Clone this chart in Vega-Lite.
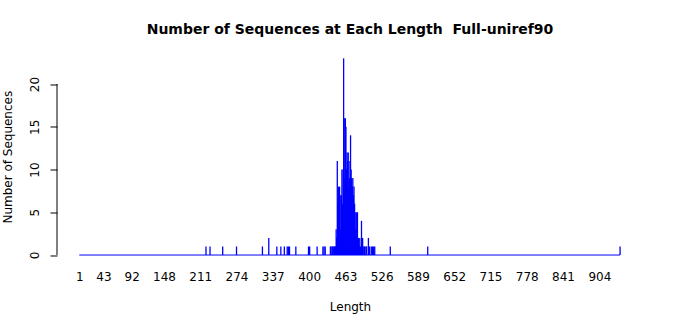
{
  "$schema": "https://vega.github.io/schema/vega-lite/v6.json",
  "autosize": "none",
  "width": 586,
  "height": 212.4,
  "padding": {"left": 57, "top": 50.5, "right": 57, "bottom": 52},
  "background": "white",
  "config": {
    "font": "DejaVu Sans",
    "view": {"stroke": null},
    "axis": {"grid": false, "labelFontSize": 12, "labelColor": "black", "titleColor": "black", "titleFontSize": 12,
      "titleFontWeight": "normal", "labelFlush": false, "labelOverlap": false, "labelFont": "DejaVu Sans", "titleFont": "DejaVu Sans"},
    "axisX": {"domain": false, "ticks": false, "tickSize": 0, "labelPadding": 9.1, "titlePadding": 19},
    "axisY": {"domain": false, "tickSize": 7, "tickColor": "black", "labelAngle": -90, "labelAlign": "center",
      "labelBaseline": "bottom", "labelPadding": 9, "titlePadding": 14}
  },
  "title": {"text": "Number of Sequences at Each Length\u00a0 Full-uniref90", "fontSize": 14, "fontWeight": "bold", "font": "DejaVu Sans", "offset": 13, "anchor": "middle", "color": "black"},
  "datasets": {
    "counts": [
      {"length": 221, "count": 1}, {"length": 228, "count": 1}, {"length": 250, "count": 1}, {"length": 274, "count": 1},
      {"length": 319, "count": 1}, {"length": 330, "count": 2}, {"length": 344, "count": 1}, {"length": 351, "count": 1},
      {"length": 357, "count": 1}, {"length": 362, "count": 1}, {"length": 364, "count": 1}, {"length": 366, "count": 1},
      {"length": 377, "count": 1}, {"length": 399, "count": 1}, {"length": 401, "count": 1}, {"length": 414, "count": 1},
      {"length": 424, "count": 1}, {"length": 426, "count": 1}, {"length": 428, "count": 1},
      {"length": 437, "count": 1}, {"length": 438, "count": 1}, {"length": 440, "count": 1}, {"length": 441, "count": 1},
      {"length": 442, "count": 1}, {"length": 444, "count": 1}, {"length": 445, "count": 1}, {"length": 446, "count": 1},
      {"length": 447, "count": 3}, {"length": 448, "count": 2}, {"length": 449, "count": 11}, {"length": 450, "count": 6},
      {"length": 451, "count": 8}, {"length": 452, "count": 4}, {"length": 453, "count": 8}, {"length": 454, "count": 7},
      {"length": 455, "count": 3}, {"length": 456, "count": 7}, {"length": 457, "count": 10}, {"length": 458, "count": 6},
      {"length": 459, "count": 10}, {"length": 460, "count": 23}, {"length": 461, "count": 16}, {"length": 462, "count": 9},
      {"length": 463, "count": 16}, {"length": 464, "count": 15}, {"length": 465, "count": 10}, {"length": 466, "count": 12},
      {"length": 467, "count": 11}, {"length": 468, "count": 12}, {"length": 469, "count": 8}, {"length": 470, "count": 9},
      {"length": 471, "count": 11}, {"length": 472, "count": 14}, {"length": 473, "count": 10}, {"length": 474, "count": 9},
      {"length": 475, "count": 8}, {"length": 476, "count": 9}, {"length": 477, "count": 7}, {"length": 478, "count": 8},
      {"length": 479, "count": 6}, {"length": 480, "count": 5}, {"length": 481, "count": 3}, {"length": 482, "count": 5},
      {"length": 483, "count": 2}, {"length": 484, "count": 5}, {"length": 485, "count": 2}, {"length": 486, "count": 2},
      {"length": 487, "count": 1}, {"length": 488, "count": 2}, {"length": 489, "count": 1}, {"length": 491, "count": 4},
      {"length": 492, "count": 1}, {"length": 493, "count": 2}, {"length": 494, "count": 1}, {"length": 496, "count": 1},
      {"length": 497, "count": 1}, {"length": 499, "count": 1}, {"length": 500, "count": 1}, {"length": 503, "count": 2},
      {"length": 505, "count": 1}, {"length": 508, "count": 1}, {"length": 510, "count": 1}, {"length": 512, "count": 1},
      {"length": 514, "count": 1}, {"length": 541, "count": 1}, {"length": 606, "count": 1}, {"length": 940, "count": 1}
    ],
    "span": [{"from": 1, "to": 940}],
    "yaxis": [{"at": -37.7, "lo": 0, "hi": 20}]
  },
  "layer": [
    {
      "data": {"name": "counts"},
      "mark": {"type": "rule", "color": "blue", "strokeWidth": 1.3},
      "encoding": {
        "x": {"field": "length", "type": "quantitative", "title": "Length",
          "scale": {"domain": [-37.7, 979.8], "nice": false, "zero": false},
          "axis": {"values": [1, 43, 92, 148, 211, 274, 337, 400, 463, 526, 589, 652, 715, 778, 841, 904], "tickCount": 40, "labelOverlap": false}},
        "y": {"field": "count", "type": "quantitative", "title": "Number of Sequences",
          "scale": {"domain": [-0.92, 23.92], "nice": false, "zero": false},
          "axis": {"values": [0, 5, 10, 15, 20], "tickCount": 20, "labelOverlap": false}},
        "y2": {"datum": 0}
      }
    },
    {
      "data": {"name": "span"},
      "mark": {"type": "rule", "color": "blue", "strokeWidth": 1},
      "encoding": {
        "x": {"field": "from", "type": "quantitative", "title": "Length"},
        "x2": {"field": "to"},
        "y": {"datum": 0, "type": "quantitative", "title": "Number of Sequences"}
      }
    },
    {
      "data": {"name": "yaxis"},
      "mark": {"type": "rule", "color": "black", "strokeWidth": 1},
      "encoding": {
        "x": {"field": "at", "type": "quantitative", "title": "Length"},
        "y": {"field": "lo", "type": "quantitative", "title": "Number of Sequences"},
        "y2": {"field": "hi"}
      }
    }
  ]
}
